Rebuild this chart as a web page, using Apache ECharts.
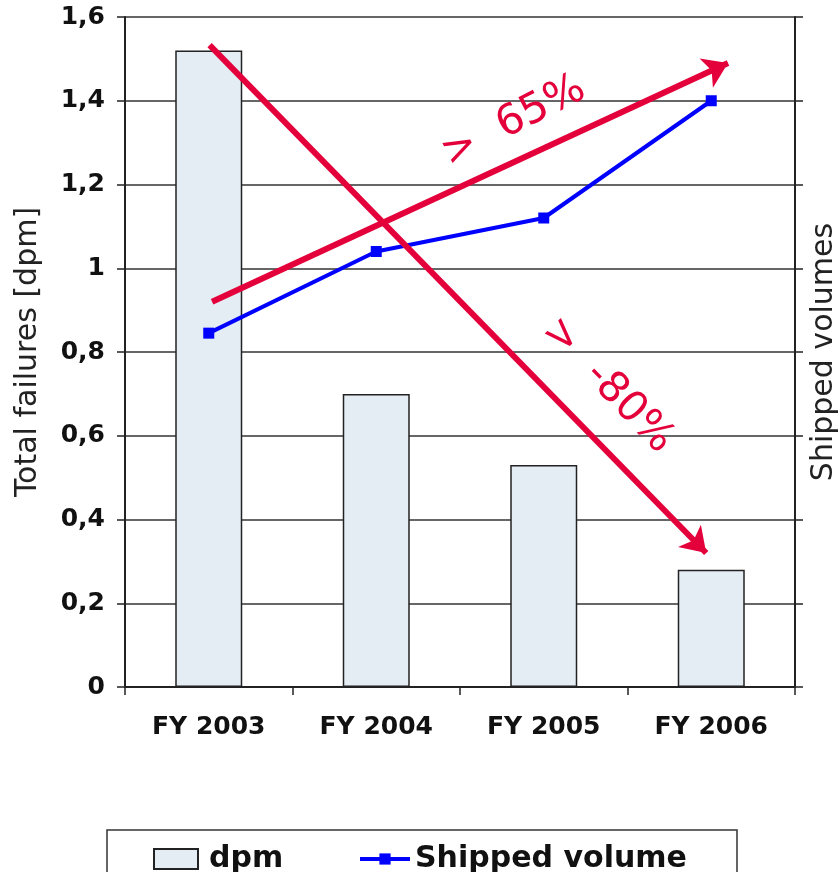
<!DOCTYPE html>
<html>
<head>
<meta charset="utf-8">
<script src="https://cdn.jsdelivr.net/npm/echarts@6/dist/echarts.min.js"></script>
<style>
  html, body { margin: 0; padding: 0; background: #fff; }
  #chart-panel { width: 838px; height: 872px; }
</style>
</head>
<body>
<div id="chart-panel"></div>
<script>
// 数据
var years = ['FY 2003', 'FY 2004', 'FY 2005', 'FY 2006'];
var dpm = [1.52, 0.70, 0.53, 0.28];
var shipped = [0.845, 1.04, 1.12, 1.40];

// 注释箭头 (x: category index, y: dpm scale)
var arrowUp = [[0.02, 0.92], [3.10, 1.49]];
var arrowDown = [[0.005, 1.533], [2.97, 0.32]];
var noteTexts = ['>  65%', '>  -80%'];
var notePos = [[1.82, 1.35], [2.38, 0.72]];
var noteRotate = [27, -46];

var red = '#e4003a';
var axisDark = '#222';

var notes = noteTexts.map(function (t, i) {
    return {
        name: t,
        value: notePos[i],
        label: { rotate: noteRotate[i] }
    };
});

var option = {
    backgroundColor: '#fff',
    animation: false,
    textStyle: { fontFamily: 'DejaVu Sans' },
    grid: {
        left: 125,
        right: 43,
        top: 17,
        bottom: 185,
        containLabel: false,
        outerBoundsMode: 'none'
    },
    legend: [{
        left: 148,
        top: 839,
        itemWidth: 44,
        itemHeight: 20,
        data: [{ name: 'dpm', icon: 'rect' }],
        textStyle: {
            fontSize: 30,
            fontWeight: 'bold',
            color: '#111',
            padding: [0, 0, 0, 6]
        }
    }, {
        left: 353,
        top: 839,
        itemWidth: 50,
        itemHeight: 14,
        data: ['Shipped volume'],
        lineStyle: { width: 4 },
        textStyle: {
            fontSize: 30,
            fontWeight: 'bold',
            color: '#111'
        }
    }],
    graphic: [{
        type: 'rect',
        shape: { x: 107, y: 830, width: 630, height: 60 },
        style: { fill: 'none', stroke: '#333', lineWidth: 1.5 },
        silent: true
    }],
    xAxis: [{
        type: 'category',
        data: years,
        boundaryGap: true,
        axisLine: { lineStyle: { color: axisDark, width: 2 } },
        axisTick: { show: true, length: 8, lineStyle: { color: axisDark, width: 1.5 } },
        axisLabel: {
            fontSize: 25,
            fontWeight: 'bold',
            color: '#111',
            margin: 28
        }
    }, {
        type: 'value',
        min: -0.5,
        max: 3.5,
        show: false
    }],
    yAxis: [{
        type: 'value',
        min: 0,
        max: 1.6,
        interval: 0.2,
        name: 'Total failures [dpm]',
        nameLocation: 'middle',
        nameRotate: 90,
        nameGap: 82,
        nameTextStyle: { fontSize: 30, color: '#222' },
        axisLine: { show: true, onZero: false, lineStyle: { color: axisDark, width: 2 } },
        axisTick: { show: true, length: 8, lineStyle: { color: axisDark, width: 1.5 } },
        axisLabel: {
            fontSize: 25,
            fontWeight: 'bold',
            color: '#111',
            margin: 20,
            formatter: function (v) {
                return String(Math.round(v * 10) / 10).replace('.', ',');
            }
        },
        splitLine: { show: true, lineStyle: { color: '#333', width: 1.5 } }
    }, {
        type: 'value',
        min: 0,
        max: 1.6,
        interval: 0.2,
        position: 'right',
        name: 'Shipped volumes',
        nameLocation: 'middle',
        nameRotate: 90,
        nameGap: 14,
        nameTextStyle: { fontSize: 30, color: '#222' },
        axisLine: { show: true, onZero: false, lineStyle: { color: axisDark, width: 2 } },
        axisTick: { show: true, length: 8, lineStyle: { color: axisDark, width: 1.5 } },
        axisLabel: { show: false },
        splitLine: { show: false }
    }],
    series: [{
        name: 'dpm',
        type: 'bar',
        data: dpm,
        barWidth: '40%',
        itemStyle: {
            color: '#e4ecf4',
            borderColor: axisDark,
            borderWidth: 1.5
        },
        z: 2
    }, {
        name: 'Shipped volume',
        type: 'line',
        yAxisIndex: 1,
        data: shipped,
        symbol: 'rect',
        symbolSize: 11,
        itemStyle: { color: '#0000ff' },
        lineStyle: { color: '#0000ff', width: 4 },
        z: 3
    }, {
        name: 'notes',
        type: 'scatter',
        xAxisIndex: 1,
        yAxisIndex: 0,
        data: notes,
        symbolSize: 0,
        silent: true,
        itemStyle: { opacity: 1 },
        label: {
            show: true,
            position: 'inside',
            formatter: '{b}',
            fontSize: 42,
            color: red,
            opacity: 1,
            fontFamily: 'DejaVu Sans'
        },
        markLine: {
            silent: true,
            symbol: ['none', 'arrow'],
            symbolSize: 24,
            label: { show: false },
            lineStyle: { color: red, width: 6, type: 'solid', opacity: 1 },
            data: [
                [{ coord: arrowDown[0] }, { coord: arrowDown[1] }],
                [{ coord: arrowUp[0] }, { coord: arrowUp[1] }]
            ]
        },
        z: 5
    }]
};

var chartPanel = document.getElementById('chart-panel');
var myChart = echarts.init(chartPanel);
myChart.setOption(option);
</script>
</body>
</html>
